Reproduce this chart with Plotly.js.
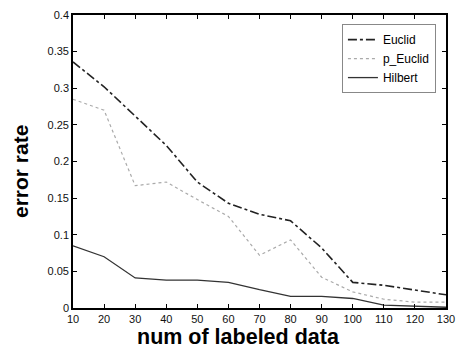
<!DOCTYPE html>
<html><head><meta charset="utf-8">
<script src="https://cdn.plot.ly/plotly-3.0.1.min.js"></script>
<style>html,body{margin:0;padding:0;background:#fff}</style>
</head><body>
<div id="chart" style="width:463px;height:351px"></div>
<script>
const numLabeled = [10,20,30,40,50,60,70,80,90,100,110,120,130];
const euclid   = [0.336,0.302,0.262,0.222,0.172,0.143,0.128,0.119,0.082,0.035,0.031,0.025,0.018];
const pEuclid  = [0.285,0.270,0.167,0.172,0.148,0.125,0.072,0.093,0.042,0.022,0.012,0.008,0.008];
const hilbert  = [0.085,0.070,0.041,0.038,0.038,0.035,0.025,0.016,0.016,0.013,0.004,0.002,0.001];
const seriesNames = ["Euclid","p_Euclid","Hilbert"];
const xTicks = [10,20,30,40,50,60,70,80,90,100,110,120,130];
const yTicks = [0,0.05,0.1,0.15,0.2,0.25,0.3,0.35,0.4];
const yTickText = ["0","0.05","0.1","0.15","0.2","0.25","0.3","0.35","0.4"];
const xTitle = "num of labeled data";
const yTitle = "error rate";

const traces = [
  {x:numLabeled,y:euclid,name:seriesNames[0],mode:"lines",line:{color:"#222",width:1.6,dash:"dashdot"}},
  {x:numLabeled,y:pEuclid,name:seriesNames[1],mode:"lines",line:{color:"#aaa",width:1.2,dash:"dot"}},
  {x:numLabeled,y:hilbert,name:seriesNames[2],mode:"lines",line:{color:"#333",width:1.3}}
];
const font = "Liberation Sans, Arial, Helvetica";
const axisCommon = {showline:true,linecolor:"#000",linewidth:1.8,mirror:"ticks",ticks:"inside",ticklen:4,tickcolor:"#000",showgrid:false,zeroline:false,tickfont:{family:font,size:11,color:"#111"}};
const plotL = 73, plotR = 446, plotT = 15, plotB = 308;
const layout = {
  width:463,height:351,
  margin:{l:plotL,r:463-plotR,t:plotT,b:351-plotB},
  paper_bgcolor:"#fff",plot_bgcolor:"#fff",
  xaxis:Object.assign({},axisCommon,{range:[10,130],tickvals:xTicks,ticktext:xTicks.map(String)}),
  yaxis:Object.assign({},axisCommon,{range:[0,0.4],tickvals:yTicks,ticktext:yTickText}),
  annotations:[
    {text:"<b>"+xTitle+"</b>",xref:"paper",yref:"paper",
     x:(238-plotL)/(plotR-plotL),y:-(350-plotB)/(plotB-plotT),xanchor:"center",yanchor:"bottom",showarrow:false,
     borderpad:0,font:{family:font,size:21.5,color:"#000"}},
    {text:"<b>"+yTitle+"</b>",xref:"paper",yref:"paper",
     x:-(plotL-21)/(plotR-plotL),y:(plotB-171)/(plotB-plotT),xanchor:"center",yanchor:"middle",textangle:-90,showarrow:false,
     font:{family:font,size:21,color:"#000"}}
  ],
  showlegend:true,
  legend:{x:0.721,y:0.969,xanchor:"left",yanchor:"top",bgcolor:"#fff",bordercolor:"#888",borderwidth:1,
    font:{family:font,size:12,color:"#000"},itemwidth:30}
};
Plotly.newPlot("chart",traces,layout,{displayModeBar:false,staticPlot:true});
</script>
</body></html>
